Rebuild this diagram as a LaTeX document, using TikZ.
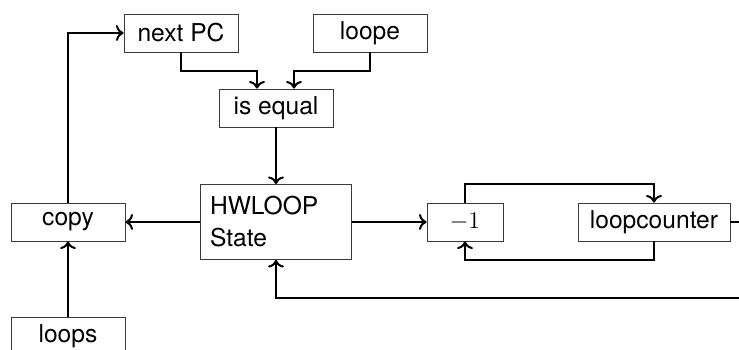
\documentclass[tikz,border=0pt]{standalone}
\usepackage{fontspec}
\setsansfont{TeX Gyre Heros}
\usetikzlibrary{arrows.meta,positioning,calc}
\definecolor{ink}{HTML}{000000}
\definecolor{frame}{HTML}{3A3A3A}

\begin{document}
\begin{tikzpicture}[x=0.5pt,y=-0.5pt,
    block/.style={draw=frame, line width=0.45pt, fill=white, font=\fontsize{12.3}{16}\selectfont\sffamily,
                  minimum width=57pt, minimum height=19pt, inner sep=3pt},
    wire/.style={ink, line width=1pt, ->}]
  \useasboundingbox (0,0) rectangle (739,349);
  \clip (0,0) rectangle (739,349);
  % compare stage
  \node[block] (nextpc) at (181,33) {next PC};
  \node[block] (loope)  at (370,33) {loope};
  \node[block] (isequal) at (276,108) {is equal};
  % state and copy path
  \node[block, minimum width=75.5pt, minimum height=37.5pt, text width=66pt,
        inner xsep=4.75pt, align=left] (hwloop) at (276,222) {HWLOOP\\State};
  \node[block] (copy)  at (68,222) {copy};
  \node[block] (loops) at (68,336) {loops};
  % counter loop
  \node[block, minimum width=38pt, font=\fontsize{12.3}{16}\selectfont] (minusone) at (465,222) {$-1$};
  \node[block, minimum width=76pt] (loopcounter) at (654,222) {loopcounter};
  \coordinate (lcout) at (770,222);
  \coordinate (back)  at (770,298);

  \draw[wire] (nextpc.south) -- ++(0,18.5) -| ([xshift=-9.5pt]isequal.north);
  \draw[wire] (loope.south) -- ++(0,18.5) -| ([xshift=9pt]isequal.north);
  \draw[wire] (isequal) -- (hwloop);
  \draw[wire] (hwloop) -- (copy);
  \draw[wire] (copy.north) |- (nextpc.west);
  \draw[wire] (loops) -- (copy);
  \draw[wire] (hwloop) -- (minusone);
  \draw[wire] (minusone.north) -- ++(0,-19) -| (loopcounter.north);
  \draw[wire] (loopcounter.south) -- ++(0,19) -| (minusone.south);
  \draw[ink, line width=1pt] (loopcounter.east) -- (lcout);
  % feedback into the state
  \draw[wire] (back) -| (hwloop.south);
\end{tikzpicture}
\end{document}
